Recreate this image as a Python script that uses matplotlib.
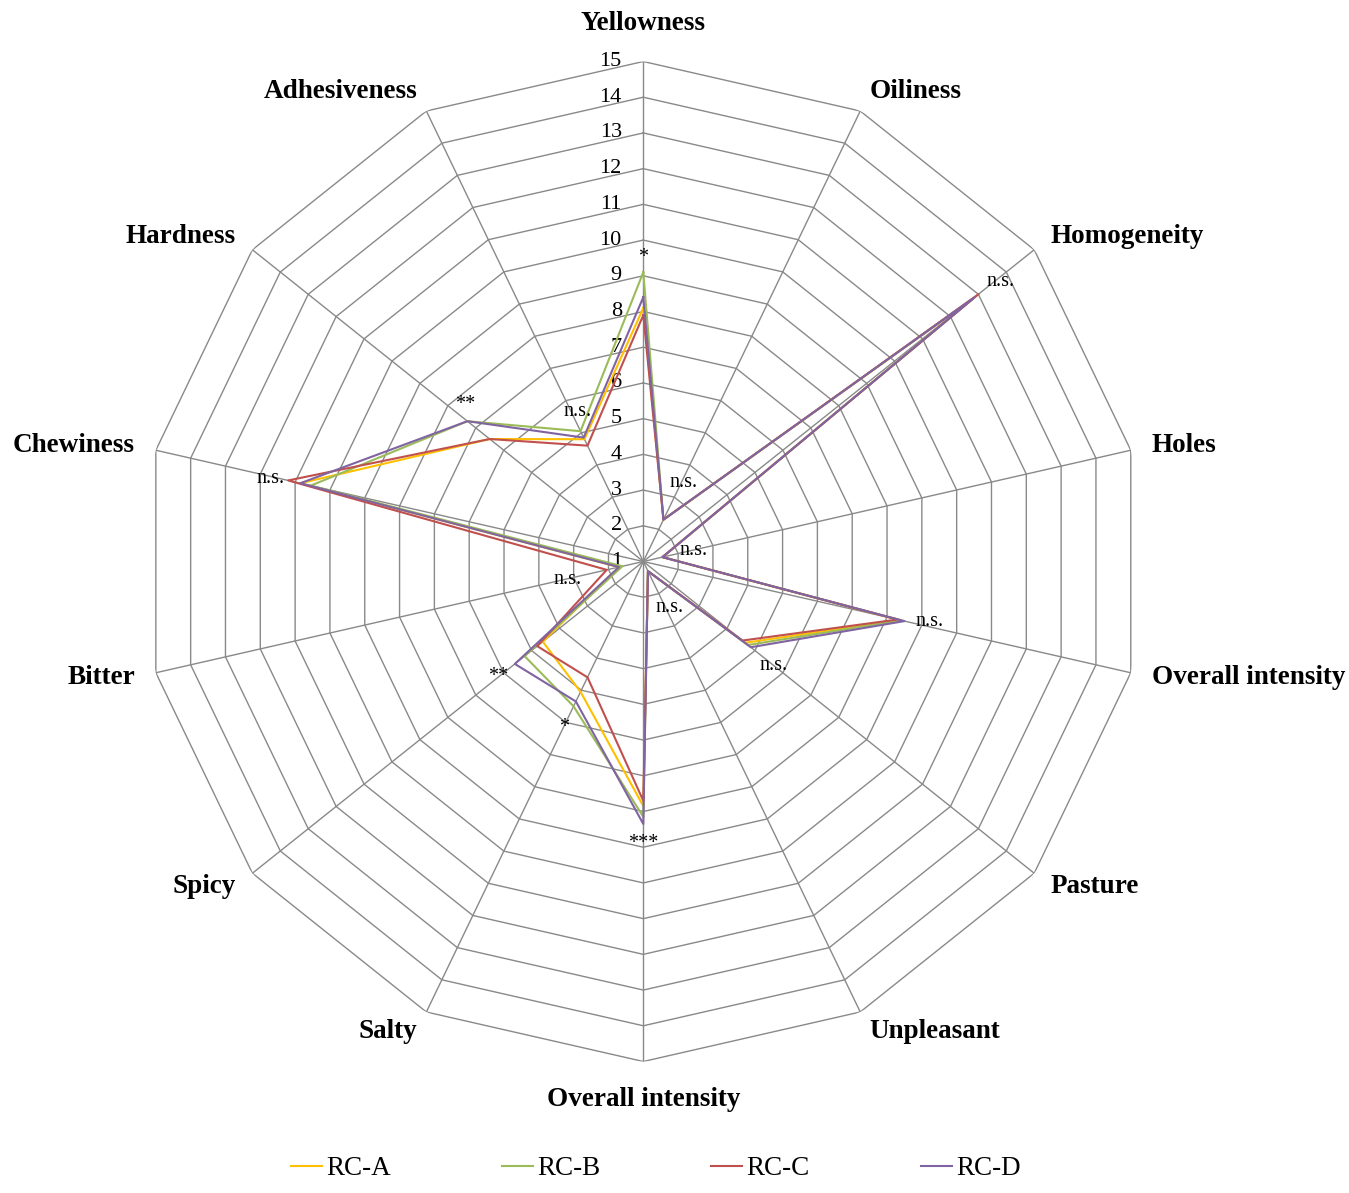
import numpy as np
import matplotlib
matplotlib.use("Agg")
import matplotlib.pyplot as plt
from matplotlib.lines import Line2D

plt.rcParams["font.family"] = ["Liberation Serif", "DejaVu Serif"]

# Sensory attributes (clockwise from the top)
categories = ["Yellowness", "Oiliness", "Homogeneity", "Holes", "Overall intensity",
              "Pasture", "Unpleasant", "Overall intensity", "Salty", "Spicy",
              "Bitter", "Chewiness", "Hardness", "Adhesiveness"]

rc_a = [8.1, 2.3, 12.8, 1.55, 8.35, 4.65, 1.3, 7.85, 5.05, 4.6, 1.7, 10.85, 6.5, 4.8]
rc_b = [9.1, 2.3, 12.8, 1.55, 8.4, 4.75, 1.3, 8.15, 5.5, 5.25, 1.6, 10.55, 7.3, 5.05]
rc_c = [7.9, 2.3, 13.0, 1.55, 8.3, 4.55, 1.3, 7.7, 4.6, 4.8, 2.05, 11.2, 6.5, 4.6]
rc_d = [8.4, 2.3, 12.85, 1.55, 8.5, 4.85, 1.3, 8.35, 5.35, 5.6, 1.7, 10.85, 7.3, 4.85]

series_names = ["RC-A", "RC-B", "RC-C", "RC-D"]
series_values = [rc_a, rc_b, rc_c, rc_d]

significance = ["*", "n.s.", "n.s.", "n.s.", "n.s.", "n.s.", "n.s.",
                "***", "*", "**", "n.s.", "n.s.", "**", "n.s."]

scale_ticks = list(range(1, 16))

# Placement of significance marks: (angle in degrees, radius)
sig_pos = [(0, 9.5), (26.8, 3.47), (51.9, 13.7), (77, 2.43), (101.9, 9.2),
           (128.6, 5.65), (150.1, 2.5), (180, 8.9), (205.5, 6.15), (231.6, 6.2),
           (256.2, 3.17), (282.6, 11.7), (311.4, 7.65), (336.4, 5.57)]

colors = ["#FFC000", "#9BBB59", "#C0504D", "#8064A2"]
grid_color = "#898989"

n = len(categories)
theta = np.arange(n) * 2 * np.pi / n
theta_closed = np.append(theta, theta[0])

W, H = 1349, 1193
cx, cy = 643.3, H - 561.5
R = 500
fig = plt.figure(figsize=(W / 100, H / 100), dpi=100)
ax = fig.add_axes([(cx - R) / W, (cy - R) / H, 2 * R / W, 2 * R / H], projection="polar")
ax.set_theta_zero_location("N")
ax.set_theta_direction(-1)
ax.set_ylim(1, 15)
ax.axis("off")

# Polygonal grid rings and spokes
for v in scale_ticks[1:]:
    ax.plot(theta_closed, [v] * (n + 1), color=grid_color, lw=1.0, zorder=1)
for t in theta:
    ax.plot([t, t], [1, 15], color=grid_color, lw=1.0, zorder=1)

# Scale labels along the vertical axis
for v in scale_ticks:
    ax.annotate(str(v), xy=(0, v), xytext=(-15.5, 0), textcoords="offset points",
                ha="right", va="center", fontsize=16)

# Data series
for name, vals, col in zip(series_names, series_values, colors):
    vals = np.asarray(vals, dtype=float)
    ax.plot(theta_closed, np.append(vals, vals[0]), color=col, lw=1.5, zorder=3, label=name)

# Attribute labels
for t, lab in zip(theta, categories):
    s = np.sin(t)
    if abs(s) < 1e-6:
        ax.text(t, 16.05, lab, ha="center", va="center", fontsize=19.5, fontweight="bold")
    else:
        ha = "left" if s > 0 else "right"
        ax.text(t, 15.6, lab, ha=ha, va="center", fontsize=19.5, fontweight="bold")

# Significance marks
for lab, (deg, r) in zip(significance, sig_pos):
    ax.text(np.deg2rad(deg), r, lab, ha="center", va="center", fontsize=14.5)

handles = [Line2D([0], [0], color=c, lw=1.5) for c in colors]
fig.legend(handles, series_names, loc="lower center", bbox_to_anchor=(0.486, -0.006),
           ncol=4, frameon=False, handlelength=1.15, handletextpad=0.15,
           columnspacing=4.1, fontsize=19.5, borderpad=0.2)

fig.savefig("out.png", dpi=100, facecolor="white")
